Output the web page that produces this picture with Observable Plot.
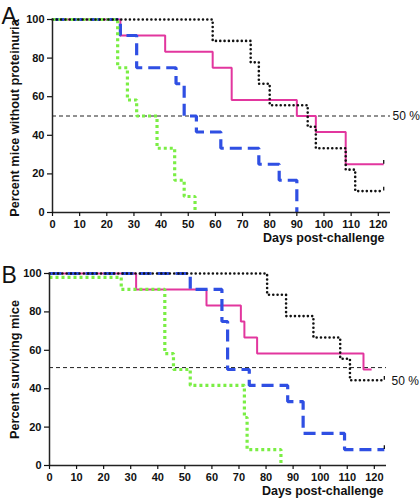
<!DOCTYPE html>
<html>
<head>
<meta charset="utf-8">
<script src="https://cdn.jsdelivr.net/npm/d3@7"></script>
<script src="https://cdn.jsdelivr.net/npm/@observablehq/plot@0.6"></script>
<style>
  html, body { margin: 0; padding: 0; background: white; }
  #chart { width: 420px; }
  #chart svg { display: block; }
</style>
</head>
<body>
<div id="chart"></div>
<script>
// ---------- Data ----------
const xTicks = [0, 10, 20, 30, 40, 50, 60, 70, 80, 90, 100, 110, 120];
const yTicks = [0, 20, 40, 60, 80, 100];
const xLabel = "Days post-challenge";
const yLabelA = "Percent mice without proteinuria";
const yLabelB = "Percent surviving mice";
const refLabel = "50 %";

// Panel A (proteinuria-free)
const aMagentaDays = [0, 25, 41.5, 59, 66, 90, 97, 108, 122];
const aMagentaVals = [100, 91.7, 83.3, 75, 58.3, 50, 41.7, 25, 25];
const aBlueDays = [0, 25, 31, 45.5, 48.5, 53, 62, 76, 83.5, 90];
const aBlueVals = [100, 91.7, 75, 66.7, 50, 41.7, 33.3, 25, 16.7, 0];
const aGreenDays = [0, 24, 27.6, 31, 38.5, 45, 48.5, 52.5];
const aGreenVals = [100, 75, 58.3, 50, 33.3, 16.7, 8.3, 0];
const aBlackDays = [0, 59, 73, 76, 80, 94, 97, 108, 111.5, 122];
const aBlackVals = [100, 88.9, 77.8, 66.7, 55.6, 44.4, 33.3, 22.2, 11.1, 11.1];
const aCensorDays = [122, 122];
const aCensorVals = [25, 11.1];
const aRef = 50;

// Panel B (survival)
const bMagentaDays = [0, 32, 58, 70.7, 72, 76.7, 116, 119];
const bMagentaVals = [100, 91.7, 83.3, 75, 66.7, 58.3, 50, 50];
const bBlueDays = [0, 52, 63.7, 65.8, 73.8, 88, 93.7, 109, 123.7];
const bBlueVals = [100, 91.7, 75, 50, 41.7, 33.3, 16.7, 8.3, 8.3];
const bGreenDays = [0, 26.5, 42.6, 45.8, 52, 72, 73, 85.5];
const bGreenVals = [98, 91.7, 58.3, 50, 41.7, 25, 8.3, 0];
const bBlackDays = [0, 80.4, 87.4, 97.5, 107.4, 111, 123.7];
const bBlackVals = [100, 88.9, 77.8, 66.7, 55.6, 44.4, 44.4];
const bCensorDays = [123.7, 123.7];
const bCensorVals = [44.4, 8.3];
const bRef = 51;
const bRefLabelY = 44;

// ---------- Styles ----------
const FONT = "'Liberation Sans', Arial, Helvetica, sans-serif";
const styles = {
  magenta: {stroke: "#e2369e", strokeWidth: 2, strokeLinecap: "butt", strokeLinejoin: "miter"},
  blue: {stroke: "#2f4fe3", strokeWidth: 3.2, strokeDasharray: "12,6", strokeLinecap: "butt", strokeLinejoin: "miter"},
  green: {stroke: "#7aee44", strokeWidth: 3.2, strokeDasharray: "3,3", strokeLinecap: "butt", strokeLinejoin: "miter"},
  black: {stroke: "#111", strokeWidth: 2.6, strokeDasharray: "0,4.3", strokeLinecap: "round"}
};

function rows(days, vals) { return days.map((d, i) => ({day: d, value: vals[i]})); }

function panel(cfg) {
  const seriesMarks = ["magenta", "blue", "green", "black"].map(k =>
    Plot.line(rows(cfg.series[k][0], cfg.series[k][1]), {
      x: "day", y: "value", curve: "step-after", ...styles[k]
    })
  );
  const censor = rows(cfg.censorDays, cfg.censorVals);
  return Plot.plot({
    width: 420,
    height: 250,
    marginTop: cfg.mt,
    marginBottom: cfg.mb,
    marginLeft: cfg.ml,
    marginRight: cfg.mr,
    x: {domain: [0, 124.5]},
    y: {domain: [0, 100]},
    style: {fontFamily: FONT, fontSize: "11px", background: "white", overflow: "visible", color: "#111"},
    marks: [
      Plot.ruleY([cfg.ref], {stroke: "#222", strokeWidth: 1, strokeDasharray: "4,3"}),
      Plot.text([cfg.refY], {y: d => d, frameAnchor: "right", text: () => refLabel, textAnchor: "start", dx: cfg.refDx, fontSize: 12, fill: "#111"}),
      ...seriesMarks,
      Plot.ruleX(censor, {x: "day", y1: "value", y2: d => d.value + 2, stroke: "#111", strokeWidth: 1.3}),
      Plot.ruleX([0], {stroke: "#222", strokeWidth: 1.5}),
      Plot.ruleY([0], {stroke: "#222", strokeWidth: 1.5}),
      Plot.axisX({ticks: xTicks, tickSize: 4, tickPadding: 4, tickFormat: d => String(d), fontWeight: "bold", fontSize: 11, strokeWidth: 1.2, label: null}),
      Plot.axisY({ticks: yTicks, tickSize: 5, tickPadding: 3, tickFormat: d => String(d), fontWeight: "bold", fontSize: 11, strokeWidth: 1.2, label: null}),
      Plot.text([xLabel], {frameAnchor: "bottom-right", text: d => d, dx: cfg.xlDx, dy: 29, textAnchor: "end", fontWeight: "bold", fontSize: 12.5, fill: "#111"}),
      Plot.text([cfg.yLabel], {frameAnchor: "left", text: d => d, rotate: -90, textAnchor: "middle", dx: -(cfg.ml - 14), dy: cfg.ylDy, fontWeight: "bold", fontSize: 12.7, fill: "#111"}),
      Plot.text([cfg.letter], {frameAnchor: "top-left", text: d => d, dx: -(cfg.ml - 1), dy: cfg.letterDy, textAnchor: "start", lineAnchor: "top", fontSize: 23, fill: "#111"})
    ]
  });
}

const chart = document.getElementById("chart");
chart.append(panel({
  mt: 19, mb: 38, ml: 52, mr: 30,
  series: {
    magenta: [aMagentaDays, aMagentaVals],
    blue: [aBlueDays, aBlueVals],
    green: [aGreenDays, aGreenVals],
    black: [aBlackDays, aBlackVals]
  },
  censorDays: aCensorDays, censorVals: aCensorVals,
  ref: aRef, refY: aRef, refDx: 2,
  xlDx: -6, yLabel: yLabelA, ylDy: 2, letter: "A", letterDy: -12
}));
chart.append(panel({
  mt: 23, mb: 35, ml: 49, mr: 34,
  series: {
    magenta: [bMagentaDays, bMagentaVals],
    blue: [bBlueDays, bBlueVals],
    green: [bGreenDays, bGreenVals],
    black: [bBlackDays, bBlackVals]
  },
  censorDays: bCensorDays, censorVals: bCensorVals,
  ref: bRef, refY: bRefLabelY, refDx: 5,
  xlDx: -3, yLabel: yLabelB, ylDy: 0, letter: "B", letterDy: -7
}));
</script>
</body>
</html>
